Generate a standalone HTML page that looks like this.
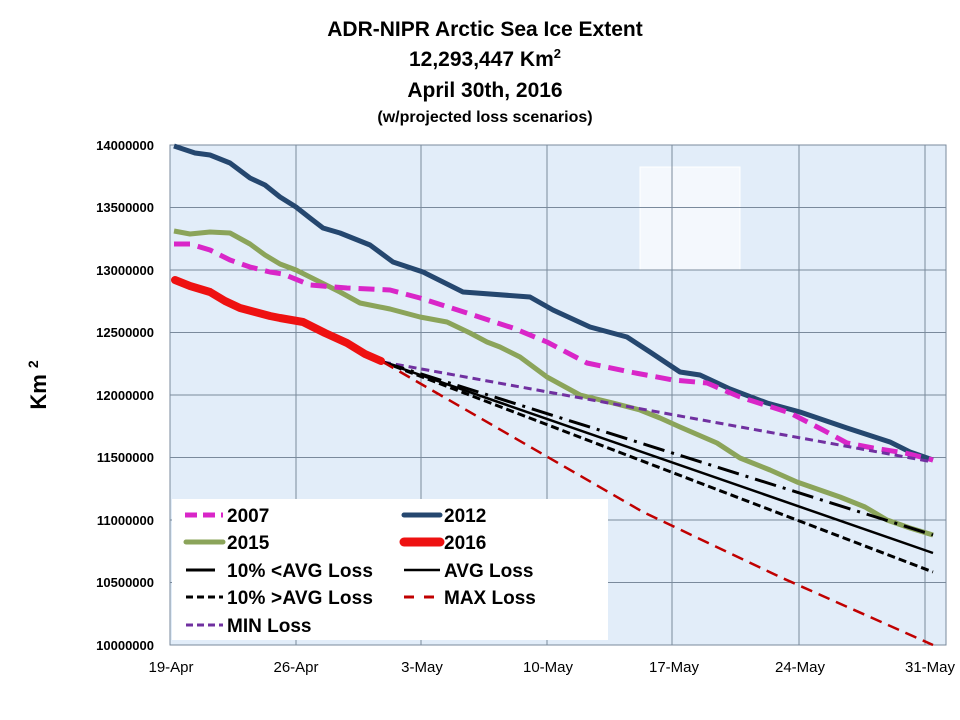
<!DOCTYPE html>
<html><head><meta charset="utf-8"><style>
body{margin:0;background:#fff;}
svg{display:block;font-family:"Liberation Sans",sans-serif;}
</style></head><body>
<svg width="960" height="720" viewBox="0 0 960 720" xmlns="http://www.w3.org/2000/svg">
<rect width="960" height="720" fill="#fff"/>
<g font-weight="bold" fill="#000" text-anchor="middle">
<text x="485" y="36" font-size="21">ADR-NIPR Arctic Sea Ice Extent</text>
<text x="485" y="66" font-size="21">12,293,447 Km<tspan font-size="13" dy="-8">2</tspan></text>
<text x="485" y="97" font-size="21">April 30th, 2016</text>
<text x="485" y="122" font-size="16">(w/projected loss scenarios)</text>
</g>
<rect x="170" y="145" width="776" height="500" fill="#e2edf9"/>
<rect x="640" y="167" width="100" height="103" fill="#f4f8fd" stroke="#fff"/>
<g stroke="#7a8a9c" stroke-width="1">
<line x1="170" y1="207.5" x2="946" y2="207.5"/><line x1="170" y1="270" x2="946" y2="270"/>
<line x1="170" y1="332.5" x2="946" y2="332.5"/><line x1="170" y1="395" x2="946" y2="395"/>
<line x1="170" y1="457.5" x2="946" y2="457.5"/><line x1="170" y1="520" x2="946" y2="520"/>
<line x1="170" y1="582.5" x2="946" y2="582.5"/>
<line x1="296" y1="145" x2="296" y2="645"/><line x1="421" y1="145" x2="421" y2="645"/>
<line x1="547" y1="145" x2="547" y2="645"/><line x1="672" y1="145" x2="672" y2="645"/>
<line x1="799" y1="145" x2="799" y2="645"/><line x1="925" y1="145" x2="925" y2="645"/>
</g>
<rect x="170" y="145" width="776" height="500" fill="none" stroke="#7a8a9c"/>
<g font-size="13" font-weight="bold" text-anchor="end">
<text x="154" y="150">14000000</text><text x="154" y="212">13500000</text>
<text x="154" y="275">13000000</text><text x="154" y="337">12500000</text>
<text x="154" y="400">12000000</text><text x="154" y="462">11500000</text>
<text x="154" y="525">11000000</text><text x="154" y="587">10500000</text>
<text x="154" y="650">10000000</text>
</g>
<g font-size="15" text-anchor="middle">
<text x="171" y="672">19-Apr</text><text x="296" y="672">26-Apr</text>
<text x="422" y="672">3-May</text><text x="548" y="672">10-May</text>
<text x="674" y="672">17-May</text><text x="800" y="672">24-May</text>
<text x="930" y="672">31-May</text>
</g>
<text transform="translate(46,385) rotate(-90)" font-size="22" font-weight="bold" text-anchor="middle">Km <tspan font-size="14" dy="-8">2</tspan></text>
<g fill="none" stroke-linejoin="round">
<polyline stroke="#25476f" stroke-width="5" points="174,146 195,153 210,155 230,163 250,178 265,185 280,197 296,207 310,218 323,228 340,233 370,245 393,262 423,272 463,292 530,297 553,310 590,327 627,337 650,352 680,372 700,375 730,389 767,403 800,412 847,428 890,442 910,452 933,460"/>
<polyline stroke="#8ba45a" stroke-width="5" points="174,231 190,234 210,232 230,233 250,244 265,255 280,264 296,270 320,282 340,292 360,303 390,309 420,317 447,322 470,333 487,342 500,347 520,357 547,377 580,395 613,403 640,410 660,418 680,427 717,443 740,458 770,470 797,482 840,497 865,507 887,520 910,528 933,535"/>
<polyline stroke="#d926c8" stroke-width="5" stroke-dasharray="16,8" points="174,244 190,244 210,250 230,260 250,267 270,272 283,274 310,285 347,288 390,290 420,298 467,313 513,328 547,342 587,363 630,372 673,380 707,383 740,397 790,413 823,430 847,443 873,448 905,453 933,460"/>
<polyline stroke="#7030a0" stroke-width="3" stroke-dasharray="8,5" points="383,362 933,462"/>
<polyline stroke="#000" stroke-width="3" stroke-dasharray="22,7,3,7" points="383,362 933,535"/>
<polyline stroke="#000" stroke-width="2.5" points="383,362 933,553"/>
<polyline stroke="#000" stroke-width="3" stroke-dasharray="8,4" points="383,362 933,572"/>
<polyline stroke="#c00000" stroke-width="2.5" stroke-dasharray="12,7" points="383,362 643,512 780,577 933,645"/>
<polyline stroke="#ee1111" stroke-width="8" stroke-linecap="round" points="175,280 190,286 210,292 225,301 240,308 255,312 270,316 280,318 303,322 325,333 347,343 365,354 381,361"/>
</g>
<rect x="172" y="499" width="436" height="141" fill="#fff"/>
<g fill="none">
<line x1="185" y1="515" x2="223" y2="515" stroke="#d926c8" stroke-width="5" stroke-dasharray="12,6"/>
<line x1="404" y1="515" x2="440" y2="515" stroke="#25476f" stroke-width="5" stroke-linecap="round"/>
<line x1="186" y1="542" x2="223" y2="542" stroke="#8ba45a" stroke-width="5" stroke-linecap="round"/>
<line x1="404" y1="542" x2="440" y2="542" stroke="#ee1111" stroke-width="9" stroke-linecap="round"/>
<line x1="186" y1="570" x2="215" y2="570" stroke="#000" stroke-width="3"/>
<line x1="404" y1="570" x2="440" y2="570" stroke="#000" stroke-width="2.5"/>
<line x1="186" y1="597" x2="223" y2="597" stroke="#000" stroke-width="3" stroke-dasharray="7,4"/>
<line x1="404" y1="597" x2="440" y2="597" stroke="#c00000" stroke-width="3" stroke-dasharray="10,10"/>
<line x1="186" y1="625" x2="223" y2="625" stroke="#7030a0" stroke-width="3" stroke-dasharray="7,4"/>
</g>
<g font-size="19" font-weight="bold">
<text x="227" y="522">2007</text><text x="444" y="522">2012</text>
<text x="227" y="549">2015</text><text x="444" y="549">2016</text>
<text x="227" y="577" textLength="146">10% &lt;AVG Loss</text><text x="444" y="577">AVG Loss</text>
<text x="227" y="604" textLength="146">10% &gt;AVG Loss</text><text x="444" y="604">MAX Loss</text>
<text x="227" y="632">MIN Loss</text>
</g>
</svg>
</body></html>
